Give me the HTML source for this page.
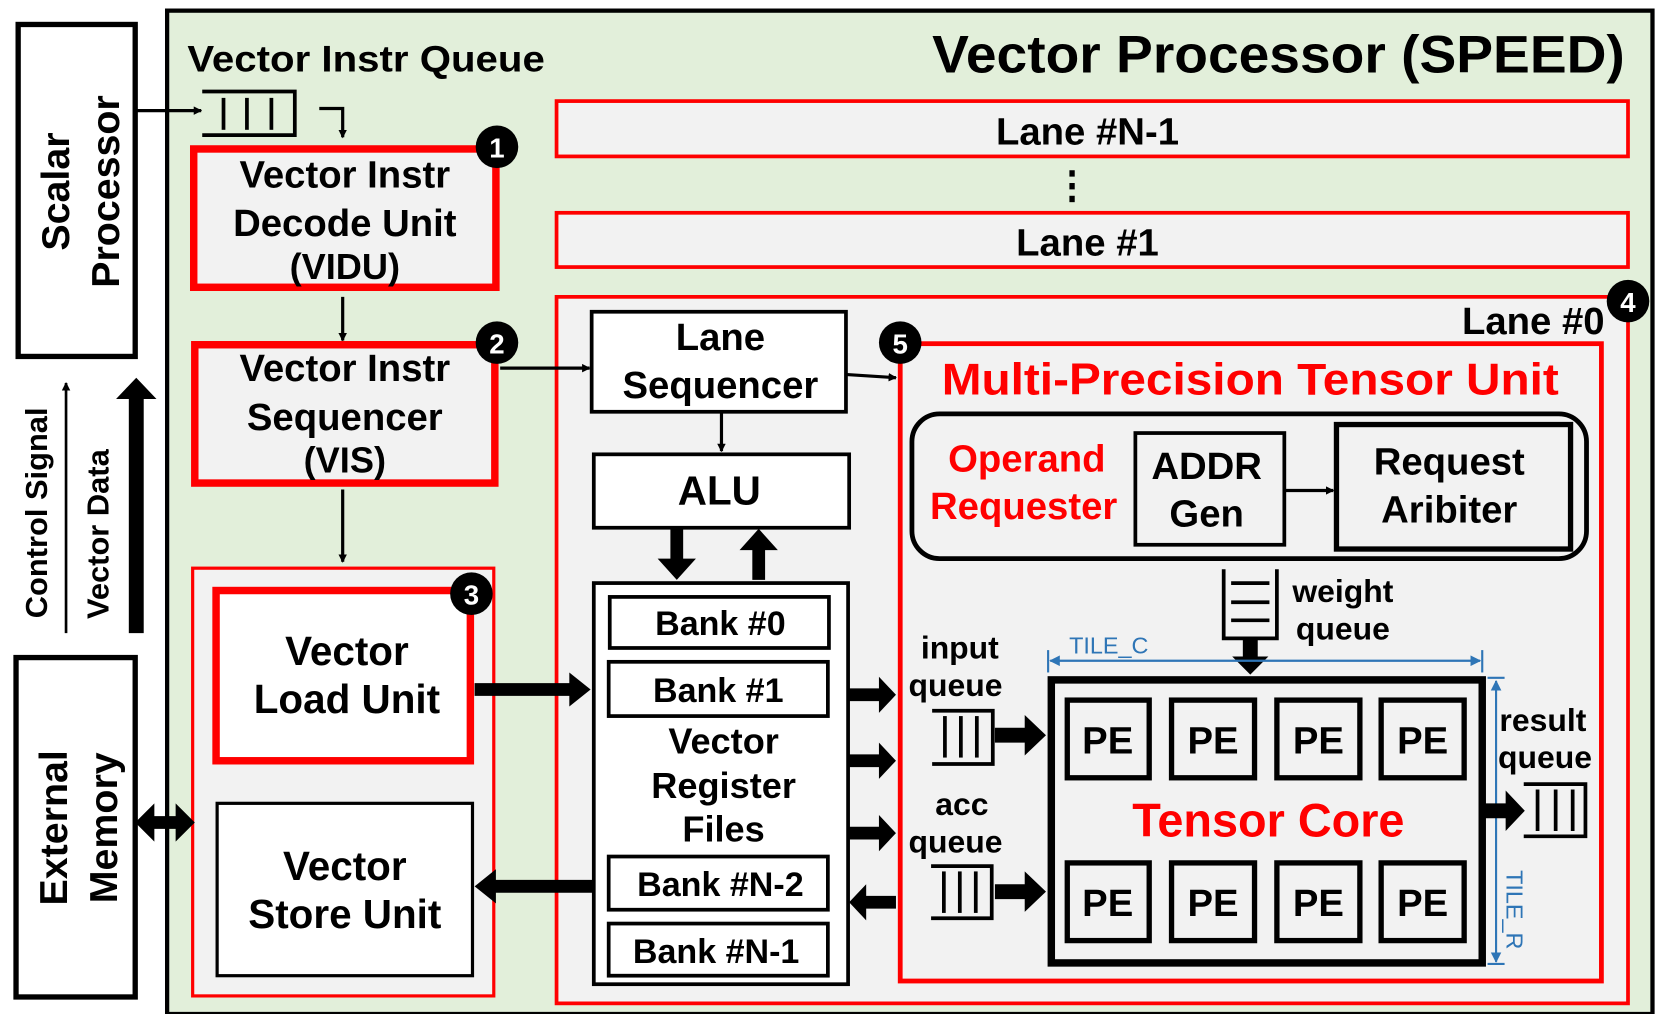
<!DOCTYPE html>
<html><head><meta charset="utf-8"><style>
html,body{margin:0;padding:0;background:#fff;}
svg{display:block;}
text{font-family:"Liberation Sans Narrow","Liberation Sans",sans-serif;font-weight:bold;}
.w{font-family:"Liberation Sans",sans-serif;font-weight:bold;}
</style></head><body>
<svg width="1660" height="1014" viewBox="0 0 1560 953" xmlns="http://www.w3.org/2000/svg">
<defs>
<marker id="a" markerWidth="8" markerHeight="8" refX="7" refY="4" orient="auto" markerUnits="userSpaceOnUse"><path d="M0,0 L8,4 L0,8 Z" fill="#000"/></marker>
<marker id="b" markerWidth="10" markerHeight="10" refX="9" refY="5" orient="auto-start-reverse" markerUnits="userSpaceOnUse"><path d="M0,0 L10,5 L0,10 Z" fill="#2e75b6"/></marker>
</defs>
<rect width="1560" height="953" fill="#fff"/>
<rect x="17" y="23" width="110" height="312" fill="#fff" stroke="#000" stroke-width="5"/>
<text class="w" transform="translate(65,180) rotate(-90)" font-size="37" text-anchor="middle">Scalar</text>
<text class="w" transform="translate(112,180) rotate(-90)" font-size="37" text-anchor="middle">Processor</text>
<rect x="15" y="618" width="112" height="319" fill="#fff" stroke="#000" stroke-width="5"/>
<text class="w" transform="translate(63,778) rotate(-90)" font-size="37" text-anchor="middle">External</text>
<text class="w" transform="translate(110,778) rotate(-90)" font-size="37" text-anchor="middle">Memory</text>
<text class="w" transform="translate(44,482) rotate(-90)" font-size="29" text-anchor="middle">Control Signal</text>
<line x1="62" y1="595" x2="62" y2="360" stroke="#000" stroke-width="2.5" marker-end="url(#a)"/>
<text class="w" transform="translate(102,502) rotate(-90)" font-size="29" text-anchor="middle">Vector Data</text>
<polygon points="121,595 135,595 135,375 147,375 128,355 109,375 121,375" fill="#000"/>
<rect x="157" y="10" width="1396" height="943" fill="#e2efda" stroke="#000" stroke-width="4"/>
<text x="176" y="67" font-size="35" textLength="336" lengthAdjust="spacingAndGlyphs">Vector Instr Queue</text>
<text x="1527" y="68" font-size="50" text-anchor="end" textLength="651" lengthAdjust="spacingAndGlyphs">Vector Processor (SPEED)</text>
<g stroke="#000" stroke-width="3.5" fill="none">
<path d="M190,86 H277 V127 H190"/><line x1="210" y1="92" x2="210" y2="122"/><line x1="232" y1="92" x2="232" y2="122"/><line x1="255" y1="92" x2="255" y2="122"/>
</g>
<line x1="127" y1="104" x2="189" y2="104" stroke="#000" stroke-width="3" marker-end="url(#a)"/>
<path d="M300,102 H322 V129" stroke="#000" stroke-width="3" fill="none" marker-end="url(#a)"/>
<rect x="182" y="140" width="284" height="130" fill="#f2f2f2" stroke="#f00" stroke-width="7"/>
<text x="324" y="176" font-size="36" text-anchor="middle">Vector Instr</text>
<text x="324" y="222" font-size="36" text-anchor="middle">Decode Unit</text>
<text x="324" y="262" font-size="34" text-anchor="middle">(VIDU)</text>
<line x1="322" y1="279" x2="322" y2="320" stroke="#000" stroke-width="3" marker-end="url(#a)"/>
<rect x="183" y="324" width="282" height="130" fill="#f2f2f2" stroke="#f00" stroke-width="7"/>
<text x="324" y="358" font-size="36" text-anchor="middle">Vector Instr</text>
<text x="324" y="404" font-size="36" text-anchor="middle">Sequencer</text>
<text x="324" y="444" font-size="34" text-anchor="middle">(VIS)</text>
<line x1="322" y1="460" x2="322" y2="528" stroke="#000" stroke-width="3" marker-end="url(#a)"/>
<g font-size="26" fill="#fff" text-anchor="middle">
<circle cx="467" cy="138" r="20" fill="#000"/><text x="467" y="148" fill="#fff">1</text>
<circle cx="467" cy="322" r="20" fill="#000"/><text x="467" y="332" fill="#fff">2</text>
</g>
<rect x="181" y="534" width="283" height="402" fill="#f2f2f2" stroke="#f00" stroke-width="3"/>
<rect x="203" y="555" width="239" height="160" fill="#fff" stroke="#f00" stroke-width="7"/>
<text x="326" y="625" font-size="38" class="w" text-anchor="middle">Vector</text>
<text x="326" y="670" font-size="38" class="w" text-anchor="middle">Load Unit</text>
<circle cx="443" cy="558" r="20" fill="#000"/><text x="443" y="568" font-size="26" fill="#fff" text-anchor="middle">3</text>
<rect x="204" y="755" width="240" height="162" fill="#fff" stroke="#000" stroke-width="3"/>
<text x="324" y="827" font-size="38" class="w" text-anchor="middle">Vector</text>
<text x="324" y="872" font-size="38" class="w" text-anchor="middle">Store Unit</text>
<polygon points="127,773 145,755 145,767 165,767 165,755 183,773 165,791 165,779 145,779 145,791" fill="#000"/>
<rect x="523" y="95" width="1007" height="52" fill="#f2f2f2" stroke="#f00" stroke-width="3.5"/>
<text x="1022" y="136" font-size="36" text-anchor="middle">Lane #N-1</text>
<rect x="1005" y="160" width="5" height="6" fill="#000"/><rect x="1005" y="172" width="5" height="6" fill="#000"/><rect x="1005" y="184" width="5" height="6" fill="#000"/>
<rect x="523" y="200" width="1007" height="51" fill="#f2f2f2" stroke="#f00" stroke-width="3.5"/>
<text x="1022" y="240" font-size="36" text-anchor="middle">Lane #1</text>
<rect x="523" y="279" width="1007" height="664" fill="#f2f2f2" stroke="#f00" stroke-width="3.5"/>
<text x="1508" y="314" font-size="36" text-anchor="end">Lane #0</text>
<circle cx="1530" cy="283" r="20" fill="#000"/><text x="1530" y="293" font-size="26" fill="#fff" text-anchor="middle">4</text>
<line x1="470" y1="346" x2="554" y2="346" stroke="#000" stroke-width="3" marker-end="url(#a)"/>
<rect x="556" y="293" width="239" height="94" fill="#fff" stroke="#000" stroke-width="3.5"/>
<text x="677" y="329" font-size="36" text-anchor="middle">Lane</text>
<text x="677" y="374" font-size="36" text-anchor="middle">Sequencer</text>
<line x1="678" y1="388" x2="678" y2="424" stroke="#000" stroke-width="3" marker-end="url(#a)"/>
<line x1="796" y1="352" x2="842" y2="355" stroke="#000" stroke-width="3" marker-end="url(#a)"/>
<rect x="558" y="427" width="240" height="69" fill="#fff" stroke="#000" stroke-width="3.5"/>
<text x="676" y="474" font-size="38" text-anchor="middle">ALU</text>
<polygon points="630,496 642,496 642,525 654,525 636,545 618,525 630,525" fill="#000"/>
<polygon points="707,545 719,545 719,517 731,517 713,497 695,517 707,517" fill="#000"/>
<rect x="558" y="548" width="239" height="377" fill="#fff" stroke="#000" stroke-width="3.5"/>
<g fill="#fff" stroke="#000" stroke-width="3.5">
<rect x="573" y="561" width="206" height="48"/><rect x="572" y="622" width="206" height="51"/>
<rect x="572" y="805" width="206" height="50"/><rect x="572" y="868" width="206" height="49"/>
</g>
<text x="677" y="597" font-size="32" class="w" text-anchor="middle">Bank #0</text>
<text x="675" y="660" font-size="32" class="w" text-anchor="middle">Bank #1</text>
<text x="680" y="708" font-size="34" class="w" text-anchor="middle">Vector</text>
<text x="680" y="750" font-size="34" class="w" text-anchor="middle">Register</text>
<text x="680" y="791" font-size="34" class="w" text-anchor="middle">Files</text>
<text x="677" y="842" font-size="32" class="w" text-anchor="middle">Bank #N-2</text>
<text x="673" y="905" font-size="32" class="w" text-anchor="middle">Bank #N-1</text>
<polygon points="446,642 535,642 535,632 555,648 535,664 535,654 446,654" fill="#000"/>
<polygon points="557,827 466,827 466,817 446,833 466,849 466,839 557,839" fill="#000"/>
<g fill="#000">
<polygon points="798,647 826,647 826,636 842,653 826,670 826,659 798,659"/>
<polygon points="798,709 826,709 826,698 842,715 826,732 826,721 798,721"/>
<polygon points="798,777 826,777 826,766 842,783 826,800 826,789 798,789"/>
<polygon points="842,842 814,842 814,831 798,848 814,865 814,854 842,854"/>
</g>
<rect x="846" y="323" width="659" height="599" fill="#f2f2f2" stroke="#f00" stroke-width="4.5"/>
<circle cx="846" cy="322" r="20" fill="#000"/><text x="846" y="332" font-size="26" fill="#fff" text-anchor="middle">5</text>
<text x="1175" y="371" font-size="42" fill="#f00" text-anchor="middle" textLength="580" lengthAdjust="spacingAndGlyphs">Multi-Precision Tensor Unit</text>
<rect x="857" y="389" width="634" height="136" rx="26" fill="#f2f2f2" stroke="#000" stroke-width="4.5"/>
<text x="965" y="443" font-size="36" fill="#f00" text-anchor="middle">Operand</text>
<text x="962" y="488" font-size="36" fill="#f00" text-anchor="middle">Requester</text>
<rect x="1067" y="407" width="140" height="105" fill="#f2f2f2" stroke="#000" stroke-width="3.5"/>
<text x="1134" y="450" font-size="36" text-anchor="middle">ADDR</text>
<text x="1134" y="495" font-size="36" text-anchor="middle">Gen</text>
<line x1="1208" y1="461" x2="1253" y2="461" stroke="#000" stroke-width="3" marker-end="url(#a)"/>
<rect x="1256" y="399" width="220" height="117" fill="#f2f2f2" stroke="#000" stroke-width="5"/>
<text x="1362" y="446" font-size="36" text-anchor="middle">Request</text>
<text x="1362" y="491" font-size="36" text-anchor="middle">Aribiter</text>
<g stroke="#000" stroke-width="3.5" fill="none">
<path d="M1150,535 V600 H1200 V535"/><line x1="1157" y1="548" x2="1193" y2="548"/><line x1="1157" y1="566" x2="1193" y2="566"/><line x1="1157" y1="583" x2="1193" y2="583"/>
</g>
<polygon points="1168,600 1182,600 1182,617 1192,617 1175,634 1158,617 1168,617" fill="#000"/>
<text x="1262" y="566" font-size="30" text-anchor="middle">weight</text>
<text x="1262" y="601" font-size="30" text-anchor="middle">queue</text>
<rect x="988" y="639" width="405" height="266" fill="#f2f2f2" stroke="#000" stroke-width="7"/>
<g fill="#f2f2f2" stroke="#000" stroke-width="5">
<rect x="1003" y="658" width="77" height="73"/><rect x="1101" y="658" width="78" height="73"/><rect x="1200" y="658" width="78" height="73"/><rect x="1298" y="658" width="78" height="73"/>
<rect x="1003" y="811" width="77" height="73"/><rect x="1101" y="811" width="78" height="73"/><rect x="1200" y="811" width="78" height="73"/><rect x="1298" y="811" width="78" height="73"/>
</g>
<g font-size="36" class="w" text-anchor="middle">
<text x="1041" y="708">PE</text><text x="1140" y="708">PE</text><text x="1239" y="708">PE</text><text x="1337" y="708">PE</text>
<text x="1041" y="861">PE</text><text x="1140" y="861">PE</text><text x="1239" y="861">PE</text><text x="1337" y="861">PE</text>
</g>
<text x="1192" y="786" font-size="44" class="w" fill="#f00" text-anchor="middle">Tensor Core</text>
<line x1="987" y1="621" x2="1391" y2="621" stroke="#2e75b6" stroke-width="2" marker-start="url(#b)" marker-end="url(#b)"/>
<line x1="985" y1="611" x2="985" y2="632" stroke="#2e75b6" stroke-width="2"/><line x1="1393" y1="611" x2="1393" y2="632" stroke="#2e75b6" stroke-width="2"/>
<text x="1042" y="614" font-size="22" fill="#2e75b6" text-anchor="middle" style="font-weight:normal">TILE_C</text>
<line x1="1406" y1="640" x2="1406" y2="904" stroke="#2e75b6" stroke-width="2" marker-start="url(#b)" marker-end="url(#b)"/>
<line x1="1398" y1="637" x2="1414" y2="637" stroke="#2e75b6" stroke-width="2"/><line x1="1398" y1="906" x2="1414" y2="906" stroke="#2e75b6" stroke-width="2"/>
<text transform="translate(1416,855) rotate(90)" font-size="22" fill="#2e75b6" text-anchor="middle" style="font-weight:normal">TILE_R</text>
<text x="902" y="619" font-size="30" text-anchor="middle">input</text>
<text x="898" y="654" font-size="30" text-anchor="middle">queue</text>
<text x="904" y="766" font-size="30" text-anchor="middle">acc</text>
<text x="898" y="801" font-size="30" text-anchor="middle">queue</text>
<g stroke="#000" stroke-width="3.5" fill="none">
<path d="M876,668 H933 V718 H876"/><line x1="888" y1="673" x2="888" y2="712"/><line x1="903" y1="673" x2="903" y2="712"/><line x1="918" y1="673" x2="918" y2="712"/>
<path d="M875,814 H932 V863 H875"/><line x1="887" y1="819" x2="887" y2="858"/><line x1="902" y1="819" x2="902" y2="858"/><line x1="917" y1="819" x2="917" y2="858"/>
<path d="M1432,737 H1490 V786 H1432"/><line x1="1445" y1="742" x2="1445" y2="781"/><line x1="1462" y1="742" x2="1462" y2="781"/><line x1="1478" y1="742" x2="1478" y2="781"/>
</g>
<g fill="#000">
<polygon points="935,684 963,684 963,672 983,691 963,710 963,698 935,698"/>
<polygon points="935,831 963,831 963,819 983,838 963,857 963,845 935,845"/>
<polygon points="1395,755 1415,755 1415,743 1433,762 1415,781 1415,769 1395,769"/>
</g>
<text x="1450" y="687" font-size="30" text-anchor="middle">result</text>
<text x="1452" y="722" font-size="30" text-anchor="middle">queue</text>
</svg>
</body></html>
